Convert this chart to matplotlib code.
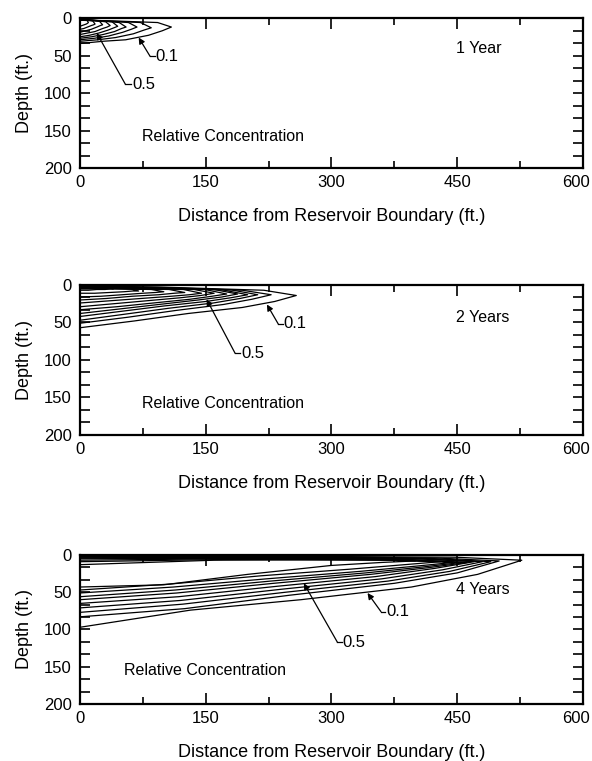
import matplotlib
matplotlib.use("Agg")
import matplotlib.pyplot as plt
from matplotlib.ticker import AutoMinorLocator
from matplotlib.transforms import ScaledTranslation

plt.rcParams['font.family'] = ['Liberation Sans', 'DejaVu Sans']

x_ticks = [0, 150, 300, 450, 600]
y_ticks = [0, 50, 100, 150, 200]

# x positions along each contour, as fractions of that contour's tip distance
lower_frac = [1.0, 0.9, 0.75, 0.5, 0.25, 0.0]
upper_frac = [0.0, 0.4, 0.85, 1.0]

# ---- 1 year ----
tips_1 = [109, 85, 68, 55, 45, 36, 27, 18, 10]
lower_1 = [
    [12, 17, 23, 29, 31, 34],
    [13, 16, 21, 26, 29, 31],
    [12, 15, 19, 24, 27, 29],
    [12, 14, 18, 22, 25, 27],
    [11, 13, 16, 20, 23, 25],
    [10, 12, 14, 18, 20, 22],
    [9, 10, 12, 15, 17, 19],
    [8, 9, 10, 12, 14, 15],
    [6, 7, 8, 9, 10, 11],
]
upper_1 = [
    [3, 4, 6, 12],
    [3, 4, 6, 13],
    [2.5, 3.5, 6, 12],
    [2.5, 3.5, 6, 12],
    [2, 3, 5, 11],
    [2, 3, 5, 10],
    [1.5, 2.5, 4, 9],
    [1.5, 2, 4, 8],
    [1, 1.5, 3, 6],
]

# ---- 2 years ----
tips_2 = [258, 228, 212, 200, 188, 175, 160, 145, 125, 100, 70, 40]
lower_2 = [
    [14, 22, 30, 38, 48, 57],
    [13, 19, 26, 34, 43, 51],
    [13, 18, 24, 31, 39, 47],
    [13, 17, 22, 28, 35, 42],
    [12, 16, 20, 26, 32, 38],
    [12, 15, 19, 24, 29, 33],
    [11, 14, 17, 21, 25, 29],
    [11, 13, 15, 18, 21, 24],
    [10, 11, 13, 15, 18, 20],
    [9, 10, 11, 13, 15, 16],
    [8, 8, 9, 10, 11, 11],
    [5, 5, 6, 6, 7, 7],
]
upper_2 = [
    [1, 3, 7, 14],
    [1.5, 3, 7, 13],
    [2, 3.5, 6.5, 13],
    [2.5, 4, 6.5, 13],
    [3, 4, 6, 12],
    [3.5, 4.5, 6, 12],
    [4, 5, 6, 11],
    [4.5, 5, 6, 11],
    [5, 5, 6, 10],
    [5, 5, 6, 9],
    [4, 4, 5, 8],
    [3, 3, 4, 5],
]

# ---- 4 years ----
tips_3 = [527, 500, 490, 480, 470, 462, 455, 445, 430, 400]
lower_3 = [
    [7, 26, 43, 60, 74, 97],
    [8, 24, 38, 54, 72, 83],
    [9, 22, 35, 50, 66, 77],
    [9, 20, 32, 46, 61, 71],
    [9, 18, 29, 42, 56, 65],
    [10, 17, 26, 38, 51, 60],
    [10, 16, 24, 35, 47, 56],
    [10, 15, 22, 32, 43, 51],
    [9, 13, 19, 28, 39, 47],
    [8, 10, 14, 26, 40, 43],
]
upper_3 = [
    [1, 1.5, 3, 7],
    [1.5, 2, 4, 8],
    [2, 2.5, 4.5, 9],
    [2.5, 3, 5, 9],
    [3, 3.5, 5, 9],
    [4, 4, 6, 10],
    [5, 4.5, 6, 10],
    [7, 5, 7, 10],
    [9, 6, 7, 9],
    [13, 7, 6, 8],
]

panels = [
    dict(tips=tips_1, lower=lower_1, upper=upper_1, title="1 Year", title_d=40,
         rect=[0.1351, 0.7792, 0.8497, 0.1971], rel=(74, 158),
         lab01=((89, 51), (83.6, 51), (70, 26)),
         lab05=((61, 88), (54, 88), (20, 20))),
    dict(tips=tips_2, lower=lower_2, upper=upper_2, title="2 Years", title_d=44,
         rect=[0.1351, 0.4284, 0.8497, 0.1971], rel=(74, 158),
         lab01=((242, 52), (236.5, 52), (223, 26)),
         lab05=((191, 91), (185, 91), (151, 19))),
    dict(tips=tips_3, lower=lower_3, upper=upper_3, title="4 Years", title_d=46,
         rect=[0.1351, 0.0749, 0.8497, 0.1958], rel=(52, 155),
         lab01=((364, 76), (359, 76), (343, 51)),
         lab05=((312, 117), (307, 117), (267, 38))),
]

fig = plt.figure(figsize=(5.92, 7.61), dpi=100)

for p in panels:
    ax = fig.add_axes(p["rect"])
    for tip, lo, up in zip(p["tips"], p["lower"], p["upper"]):
        xs = [tip * f for f in upper_frac] + [tip * f for f in lower_frac[1:]]
        ds = list(up) + list(lo[1:])
        ax.plot(xs, ds, color="black", lw=0.9)

    ax.set_xlim(0, 600)
    ax.set_ylim(200, 0)
    ax.set_xticks(x_ticks)
    ax.set_yticks(y_ticks)
    ax.xaxis.set_minor_locator(AutoMinorLocator(2))
    ax.yaxis.set_minor_locator(AutoMinorLocator(3))
    ax.tick_params(which="both", direction="in", top=True, right=True,
                   width=1.2, labelsize=12)
    ax.tick_params(axis="x", which="major", length=8, pad=5)
    ax.tick_params(axis="x", which="minor", length=5)
    ax.tick_params(axis="y", which="both", length=7, pad=6)
    for s in ax.spines.values():
        s.set_linewidth(1.6)

    ax.set_xlabel("Distance from Reservoir Boundary (ft.)", fontsize=13, labelpad=13)
    ax.set_ylabel("Depth (ft.)", fontsize=13, labelpad=8)

    ax.text(449, p["title_d"], p["title"], fontsize=11.5, va="center", ha="left")
    ax.text(p["rel"][0], p["rel"][1], "Relative Concentration",
            fontsize=11.5, va="center", ha="left")

    for txt, (tpos, elbow, head) in (("0.1", p["lab01"]), ("0.5", p["lab05"])):
        ax.plot([elbow[0], tpos[0]], [elbow[1], tpos[1]], color="black", lw=0.9)
        ax.annotate("", xy=head, xytext=elbow,
                    arrowprops=dict(arrowstyle="-|>", color="black", lw=0.9,
                                    mutation_scale=9, shrinkA=0, shrinkB=0))
        ax.text(tpos[0] + 1, tpos[1], txt, fontsize=12, va="center", ha="left")

    # keep the "600" label inside the page, as in the scan
    last = ax.xaxis.get_major_ticks()[-1].label1
    last.set_transform(last.get_transform() + ScaledTranslation(-7 / 100, 0, fig.dpi_scale_trans))

fig.savefig("out.png", dpi=100)
